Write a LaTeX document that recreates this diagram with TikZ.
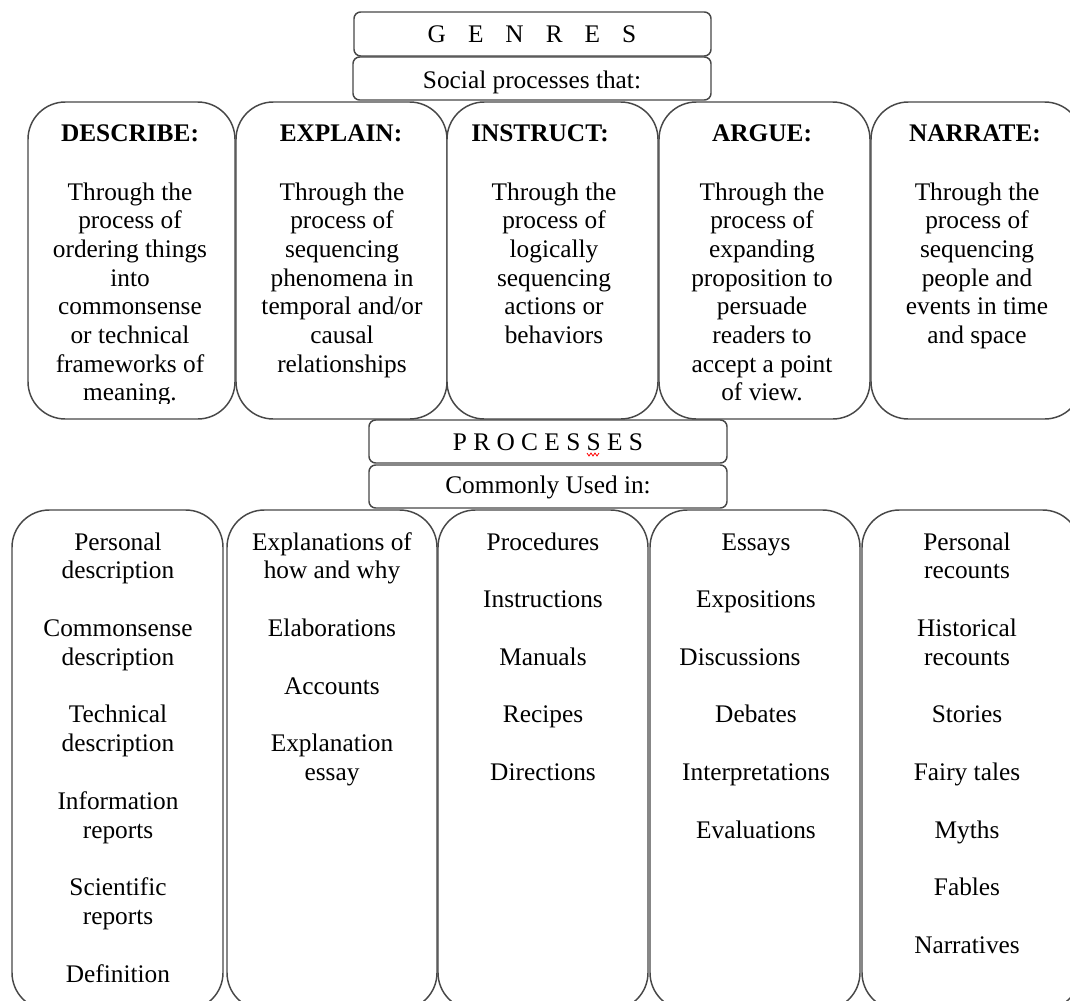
\documentclass[tikz,border=0pt]{standalone}
\usepackage{fontspec}
\setmainfont{Liberation Serif}
\begin{document}
\begin{tikzpicture}[x=0.75pt,y=-0.75pt,
  box/.style={draw=black!72, line width=1.1pt, rounded corners=28pt, fill=white},
  tbox/.style={draw=black!72, line width=1.1pt, rounded corners=5pt, fill=white},
  txt/.style={font=\fontsize{19}{22}\selectfont, inner sep=0pt, anchor=base},
  hd/.style={txt, font=\fontsize{19}{22}\selectfont\bfseries}]
\useasboundingbox (0,0) rectangle (1070,1000);
\clip (0,0) rectangle (1070,1000);

% genre boxes
\draw[box] (28,102) rectangle (235,419);
\draw[box] (236,102) rectangle (447,419);
\draw[box] (447,102) rectangle (658,419);
\draw[box] (659,102) rectangle (870,419);
\draw[box] (871,102) rectangle (1082,419);

% bottom boxes
\draw[box] (12,510) rectangle (223,1010);
\draw[box] (227,510) rectangle (437,1010);
\draw[box] (438,510) rectangle (648,1010);
\draw[box] (650,510) rectangle (860,1010);
\draw[box] (862,510) rectangle (1080,1010);

% title boxes
\draw[tbox] (354,12) rectangle (711,56);
\draw[tbox] (353,57) rectangle (711,100);
\draw[tbox] (369,420) rectangle (727,463);
\draw[tbox] (369,465) rectangle (727,508);

\node[txt] (genres) at (532,42) {G\hspace{16.5pt}E\hspace{16.5pt}N\hspace{16.5pt}R\hspace{16.5pt}E\hspace{16.5pt}S};
\node[txt] (social) at (532,88) {Social processes that:};
\node[txt] (proc) at (548,450) {P R O C E S S E S};
\node[txt] (common) at (548,493) {Commonly Used in:};
\draw[red, line width=0.6pt] (587,453) -- (589,456) -- (591,453) -- (593,456) -- (595,453) -- (597,456) -- (599,453);

% headings
\node[hd] (hD) at (130,141) {DESCRIBE:};
\node[hd] (hE) at (341,141) {EXPLAIN:};
\node[hd] (hI) at (540,141) {INSTRUCT:};
\node[hd] (hA) at (762,141) {ARGUE:};
\node[hd] (hN) at (975,141) {NARRATE:};

\begin{scope}
\clip (28,102) rectangle (235,403);
\foreach \t [count=\i from 0] in {Through the,process of,ordering things,into,commonsense,or technical,frameworks of,meaning.}
  \node[txt] (d\i) at (130,200+\i*28.7) {\t};
\end{scope}
\foreach \t [count=\i from 0] in {Through the,process of,sequencing,phenomena in,temporal and/or,causal,relationships}
  \node[txt] (e\i) at (342,200+\i*28.7) {\t};
\foreach \t [count=\i from 0] in {Through the,process of,logically,sequencing,actions or,behaviors}
  \node[txt] (n\i) at (554,200+\i*28.7) {\t};
\foreach \t [count=\i from 0] in {Through the,process of,expanding,proposition to,persuade,readers to,accept a point,of view.}
  \node[txt] (a\i) at (762,200+\i*28.7) {\t};
\foreach \t [count=\i from 0] in {Through the,process of,sequencing,people and,events in time,and space}
  \node[txt] (r\i) at (977,200+\i*28.7) {\t};

% bottom lists
\foreach \k/\t in {0/Personal,1/description,3/Commonsense,4/description,6/Technical,7/description,9/Information,10/reports,12/Scientific,13/reports,15/Definition}
  \node[txt] (p\k) at (118,550+\k*28.8) {\t};
\foreach \k/\t in {0/Explanations of,1/how and why,3/Elaborations,5/Accounts,7/Explanation,8/essay}
  \node[txt] (q\k) at (332,550+\k*28.8) {\t};
\foreach \k/\t in {0/Procedures,2/Instructions,4/Manuals,6/Recipes,8/Directions}
  \node[txt] (s\k) at (543,550+\k*28.8) {\t};
\foreach \k/\t in {0/Essays,2/Expositions,6/Debates,8/Interpretations,10/Evaluations}
  \node[txt] (u\k) at (756,550+\k*28.8) {\t};
\node[txt] (u4) at (740,550+4*28.8) {Discussions};
\foreach \k/\t in {0/Personal,1/recounts,3/Historical,4/recounts,6/Stories,8/Fairy tales,10/Myths,12/Fables,14/Narratives}
  \node[txt] (v\k) at (967,550+\k*28.8) {\t};
\end{tikzpicture}
\end{document}
